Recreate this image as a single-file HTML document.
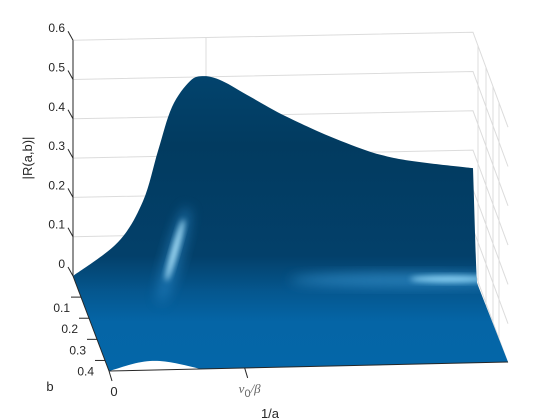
<!DOCTYPE html>
<html><head><meta charset="utf-8"><style>
body{margin:0;background:#fff}
svg{display:block;font-family:"Liberation Sans",sans-serif}
</style></head><body>
<svg id="chart" width="560" height="420" viewBox="0 0 560 420">
<defs>
<linearGradient id="sg" gradientUnits="userSpaceOnUse" x1="0" y1="70" x2="0" y2="370">
<stop offset="0" stop-color="#02446e"/>
<stop offset="0.25" stop-color="#023b60"/>
<stop offset="0.62" stop-color="#03406a"/>
<stop offset="0.74" stop-color="#05578f"/>
<stop offset="0.84" stop-color="#0565a6"/>
<stop offset="1" stop-color="#0466a8"/>
</linearGradient>
<filter id="blur6" x="-50%" y="-50%" width="200%" height="200%"><feGaussianBlur stdDeviation="6"/></filter>
<filter id="blur3" x="-50%" y="-50%" width="200%" height="200%"><feGaussianBlur stdDeviation="3"/></filter>
<clipPath id="surfClip"><path id="clipPath"/></clipPath>
</defs>
<g id="grid"></g>
<g id="surface"></g>
<g id="axes"></g>
<text x="0" y="0" transform="translate(32,158) rotate(-90)" text-anchor="middle" font-size="13" fill="#262626">|R(a,b)|</text>
<text x="50" y="391" text-anchor="middle" font-size="13" fill="#262626">b</text>
<text x="270" y="418" text-anchor="middle" font-size="13" fill="#262626">1/a</text>
</svg>
<script>
const zTicks=[0,0.1,0.2,0.3,0.4,0.5,0.6];
const zTickLabels=["0","0.1","0.2","0.3","0.4","0.5","0.6"];
const bTicks=[0.1,0.2,0.3,0.4];
const bTickLabels=["0.1","0.2","0.3","0.4"];
const uVals=[0,0.1125,0.175,0.2125,0.2475,0.2925,0.3275,0.3725,0.445,0.535,0.67,0.8025,1];
const ridgeZ=[0,0.084,0.187,0.314,0.425,0.49,0.502,0.489,0.446,0.394,0.33,0.284,0.254];
const xTickVals=[0,0.34];
const xTickLabels=["0","ν"];

const NS="http://www.w3.org/2000/svg";
function px(u,b){return 73+u*400+b/0.45*36;}
function py(u,z,b){return 276 - z*393 - u*8 + b/0.45*95;}
function mk(tag,attrs,parent){const e=document.createElementNS(NS,tag);for(const k in attrs)e.setAttribute(k,attrs[k]);parent.appendChild(e);return e;}
const grid=document.getElementById('grid'),axes=document.getElementById('axes'),surf=document.getElementById('surface');

zTicks.forEach((z,i)=>{
  const l=mk('polyline',{points:`${px(0,0)},${py(0,z,0)} ${px(1,0)},${py(1,z,0)} ${px(1,0)+35},${py(1,z,0)+95}`,fill:'none',stroke:'#dcdcdc','stroke-width':1},grid);
  
  
});
const vb=mk('line',{x1:206,y1:py(0.3325,0.6,0),x2:206,y2:200,stroke:'#dcdcdc'},grid);


[478,486,493,499].forEach((x,i)=>{
  const l=mk('line',{x1:x,y1:32+(x-473)*2.7,x2:x,y2:360,stroke:'#dcdcdc'},grid);
  
  
});

// smooth ridge via Catmull-Rom
const pts=uVals.map((u,i)=>[px(u,0),py(u,ridgeZ[i],0)]);
let d=`M${pts[0][0]},${pts[0][1]}`;
for(let i=0;i<pts.length-1;i++){
  const p0=pts[Math.max(0,i-1)],p1=pts[i],p2=pts[i+1],p3=pts[Math.min(pts.length-1,i+2)];
  const c1=[p1[0]+(p2[0]-p0[0])/6,p1[1]+(p2[1]-p0[1])/6];
  const c2=[p2[0]-(p3[0]-p1[0])/6,p2[1]-(p3[1]-p1[1])/6];
  d+=` C${c1[0]},${c1[1]} ${c2[0]},${c2[1]} ${p2[0]},${p2[1]}`;
}
d+=` C475,230 476,270 477,283 L508,362 L201,369 C180,364 165,360 150,361 C135,362 120,368 109,371 Z`;
const body=mk('path',{d:d,fill:'url(#sg)'},surf);


document.getElementById('clipPath').setAttribute('d',d);
const hl=mk('g',{'clip-path':'url(#surfClip)'},surf);
const h0=mk('ellipse',{cx:174,cy:255,rx:9,ry:50,fill:'#2f8fd0',opacity:0.5,filter:'url(#blur6)',transform:'rotate(16 174 255)'},hl);


const h1=mk('ellipse',{cx:175,cy:250,rx:3.5,ry:32,fill:'#b0e8ff',opacity:0.9,filter:'url(#blur3)',transform:'rotate(16 175 250)'},hl);


const h2=mk('ellipse',{cx:410,cy:280,rx:120,ry:7,fill:'#3f9fdc',opacity:0.6,filter:'url(#blur6)'},hl);


const h3=mk('ellipse',{cx:450,cy:279,rx:40,ry:3.5,fill:'#9be0ff',opacity:0.85,filter:'url(#blur3)'},hl);



const za=mk('line',{x1:73,y1:py(0,0.6,0),x2:73,y2:276,stroke:'#262626'},axes);


const ba=mk('line',{x1:73,y1:276,x2:109,y2:371,stroke:'#262626'},axes);


const xa=mk('line',{x1:109,y1:371,x2:508,y2:362,stroke:'#262626'},axes);



zTicks.forEach((z,i)=>{
  const y=py(0,z,0);
  const t=mk('line',{x1:68,y1:y-9,x2:73,y2:y,stroke:'#262626'},axes);
  
  
  const tx=mk('text',{x:65,y:y-8,'text-anchor':'end','font-size':12,fill:'#262626'},axes);
  tx.textContent=zTickLabels[i];
  
  
});
bTicks.forEach((b,i)=>{
  const x=73+b/0.45*36,y=276+b/0.45*95;
  const t=mk('line',{x1:x-10,y1:y,x2:x,y2:y,stroke:'#262626'},axes);
  
  
  const tx=mk('text',{x:x-11,y:y+15,'text-anchor':'end','font-size':12,fill:'#262626'},axes);
  tx.textContent=bTickLabels[i];
  
  
});
xTickVals.forEach((u,i)=>{
  const x=109+u*399,y=371-u*9;
  const t=mk('line',{x1:x,y1:y,x2:x+3,y2:y+10,stroke:'#262626'},axes);
  
  
  const tx=mk('text',{x:x+5,y:y+25,'text-anchor':'middle','font-size':13,fill:i===0?'#262626':'#666'},axes);
  if(i===0){tx.textContent=xTickLabels[i];}
  else{
    tx.setAttribute('font-family','"Liberation Serif",serif');
    tx.setAttribute('font-style','italic');
    tx.textContent=xTickLabels[i];
    const s=mk('tspan',{'font-size':11,dy:4,'font-style':'normal','font-family':'"Liberation Sans",sans-serif'},tx);s.textContent='0';
    const s2=mk('tspan',{dy:-4},tx);s2.textContent='/β';
  }
  
  
});
</script>
</body></html>
